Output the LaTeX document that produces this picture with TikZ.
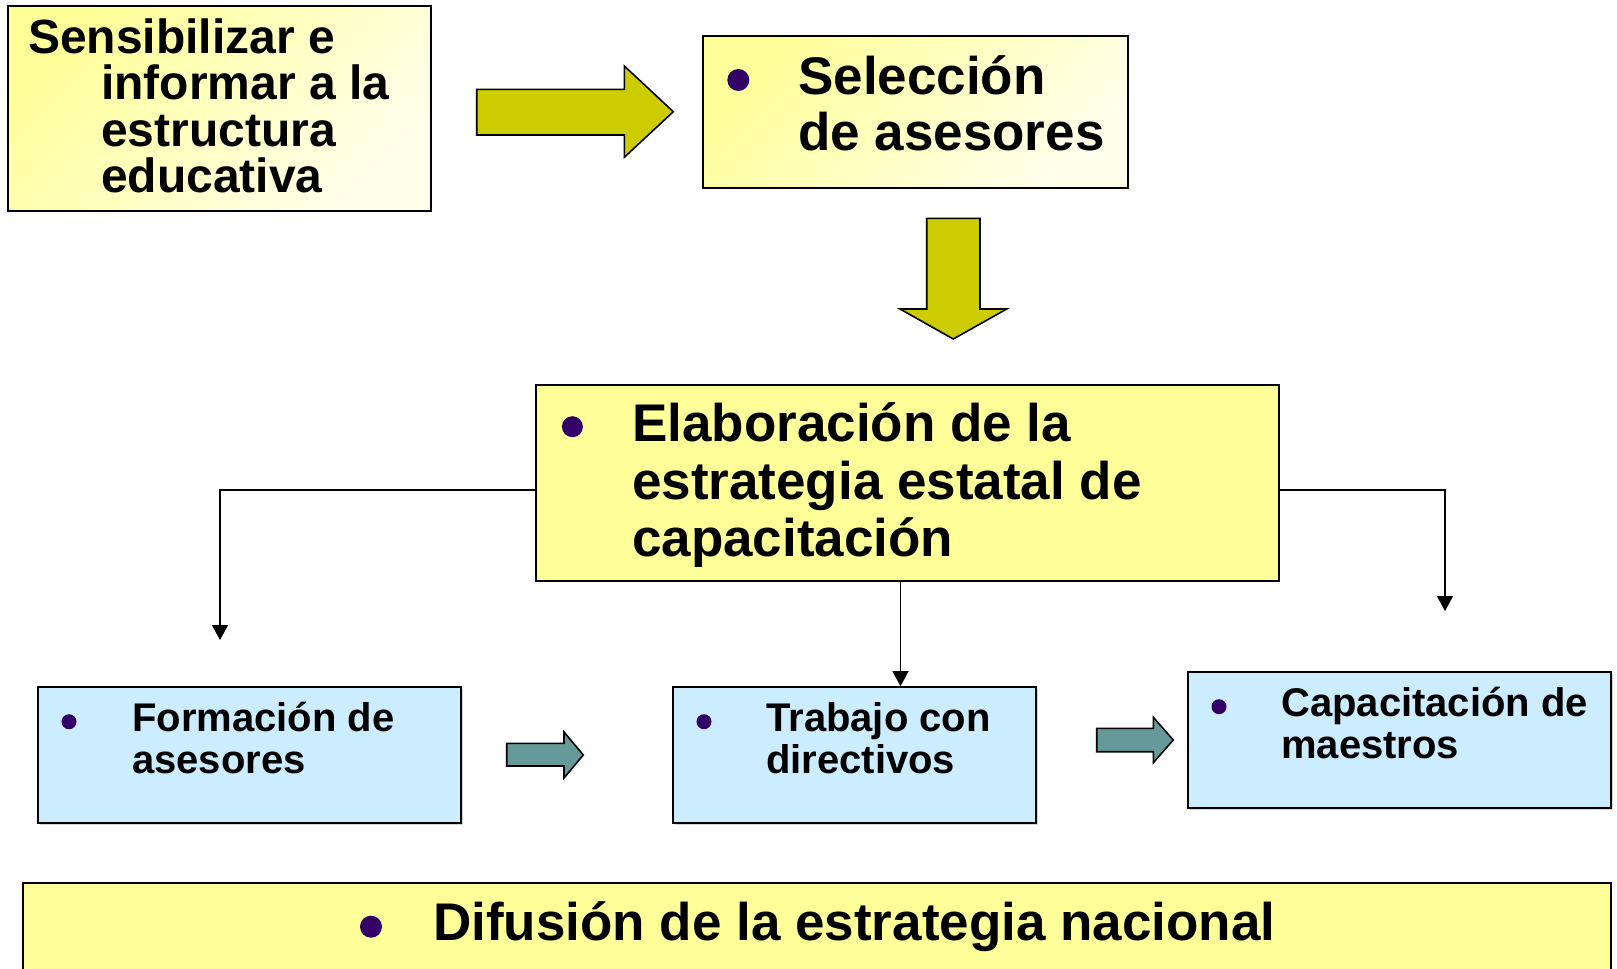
\documentclass[tikz,border=0pt]{standalone}
\usepackage{fontspec}
\setmainfont{Liberation Sans}
\usetikzlibrary{arrows.meta,shadows}

\definecolor{paleyellow}{HTML}{FFFF99}
\definecolor{cream}{HTML}{FFFFEC}
\definecolor{paleblue}{HTML}{CCECFF}
\definecolor{olivegreen}{HTML}{CCCC00}
\definecolor{tealgrey}{HTML}{669999}
\definecolor{dotpurple}{HTML}{330066}

\begin{document}
\begin{tikzpicture}[x=1pt, y=-1pt, >={Triangle[length=15pt,width=16pt]},
    box/.style={draw, line width=1.6pt, rectangle, inner sep=0pt},
    fadebox/.style={box, top color=paleyellow, bottom color=cream, shading angle=45},
    yellowbox/.style={box, fill=paleyellow},
    bluebox/.style={box, fill=paleblue, drop shadow={shadow xshift=1.5pt, shadow yshift=-1.5pt, opacity=0.35}},
    boxtext/.style={anchor=base west, inner sep=0pt},
    bulletdot/.style={circle, fill=dotpurple, inner sep=0pt, minimum size=#1},
    bigarrow/.style={draw, line width=1.6pt, fill=olivegreen, line join=miter},
    smallarrow/.style={draw, line width=1.6pt, fill=tealgrey, line join=miter}]
    \path [use as bounding box, clip] (0,0) rectangle (1617,969);

    \node [fadebox, minimum width=423pt, minimum height=205pt] (sensib) at (219.5,108.5) {};
    \node [fadebox, minimum width=425pt, minimum height=152pt] (seleccion) at (915.2,112.2) {};
    \node [yellowbox, minimum width=743pt, minimum height=196pt] (elab) at (907.5,483) {};
    \node [bluebox, minimum width=423pt, minimum height=136pt] (formacion) at (249.5,755) {};
    \node [bluebox, minimum width=363pt, minimum height=136pt] (trabajo) at (854.5,755) {};
    \node [bluebox, minimum width=423pt, minimum height=136pt] (capacit) at (1399.5,740) {};
    \node [yellowbox, minimum width=1588pt, minimum height=127pt] (difusion) at (817,946.5) {};

    \node [boxtext, font=\fontsize{48}{46.5}\selectfont\bfseries] (sensibtext) at (28,53.3)
        {\parbox[t]{400pt}{Sensibilizar e\\\hspace*{73pt}informar a la\\\hspace*{73pt}estructura\\\hspace*{73pt}educativa}};
    \node [bulletdot=22pt] (seleccdot) at (738.3,80) {};
    \node [boxtext, font=\fontsize{53}{56}\selectfont\bfseries] (selecctext) at (798,94)
        {\parbox[t]{400pt}{Selección\\de asesores}};
    \node [bulletdot=21pt] (elabdot) at (572.4,426.7) {};
    \node [boxtext, font=\fontsize{53}{57.6}\selectfont\bfseries] (elabtext) at (632,441.7)
        {\parbox[t]{700pt}{Elaboración de la\\estrategia estatal de\\capacitación}};
    \node [bulletdot=15pt] (formdot) at (69,721.7) {};
    \node [boxtext, font=\fontsize{40}{41.7}\selectfont\bfseries] (formtext) at (132,731.7)
        {\parbox[t]{400pt}{Formación de\\asesores}};
    \node [bulletdot=15pt] (trabdot) at (704,721.7) {};
    \node [boxtext, font=\fontsize{40}{41.7}\selectfont\bfseries] (trabtext) at (766,731.7)
        {\parbox[t]{400pt}{Trabajo con\\directivos}};
    \node [bulletdot=15pt] (capdot) at (1219,706.7) {};
    \node [boxtext, font=\fontsize{40}{41.7}\selectfont\bfseries] (captext) at (1281,716.7)
        {\parbox[t]{400pt}{Capacitación de\\maestros}};
    \node [bulletdot=22pt] (difdot) at (371,926.7) {};
    \node [boxtext, font=\fontsize{53}{57}\selectfont\bfseries] (diftext) at (433,940)
        {Difusión de la estrategia nacional};

    \draw [bigarrow] (476.7,89.3) -- (624.3,89.3) -- (624.3,66) -- (673.3,111.7)
        -- (624.3,157.3) -- (624.3,135) -- (476.7,135) -- cycle;
    \draw [bigarrow] (926.7,218.3) -- (980,218.3) -- (980,309) -- (1006.7,309)
        -- (953.3,339) -- (900,309) -- (926.7,309) -- cycle;
    \draw [smallarrow] (506.7,743.3) -- (564,743.3) -- (564,732) -- (583.3,755)
        -- (564,778) -- (564,766) -- (506.7,766) -- cycle;
    \draw [smallarrow] (1096.7,728.3) -- (1153.3,728.3) -- (1153.3,717.3) -- (1173.3,740)
        -- (1153.3,762.7) -- (1153.3,751.7) -- (1096.7,751.7) -- cycle;

    \coordinate (leftend) at (220,640);
    \coordinate (rightend) at (1445,611);

    \draw [->, line width=1.3pt] ([yshift=-7pt]elab.west) -| (leftend);
    \draw [->, line width=1.3pt] ([yshift=-7pt]elab.east) -| (rightend);
    \draw [->, line width=1.3pt] ([xshift=-7pt]elab.south) -- ([xshift=-7pt]elab.south |- trabajo.north);
\end{tikzpicture}
\end{document}
